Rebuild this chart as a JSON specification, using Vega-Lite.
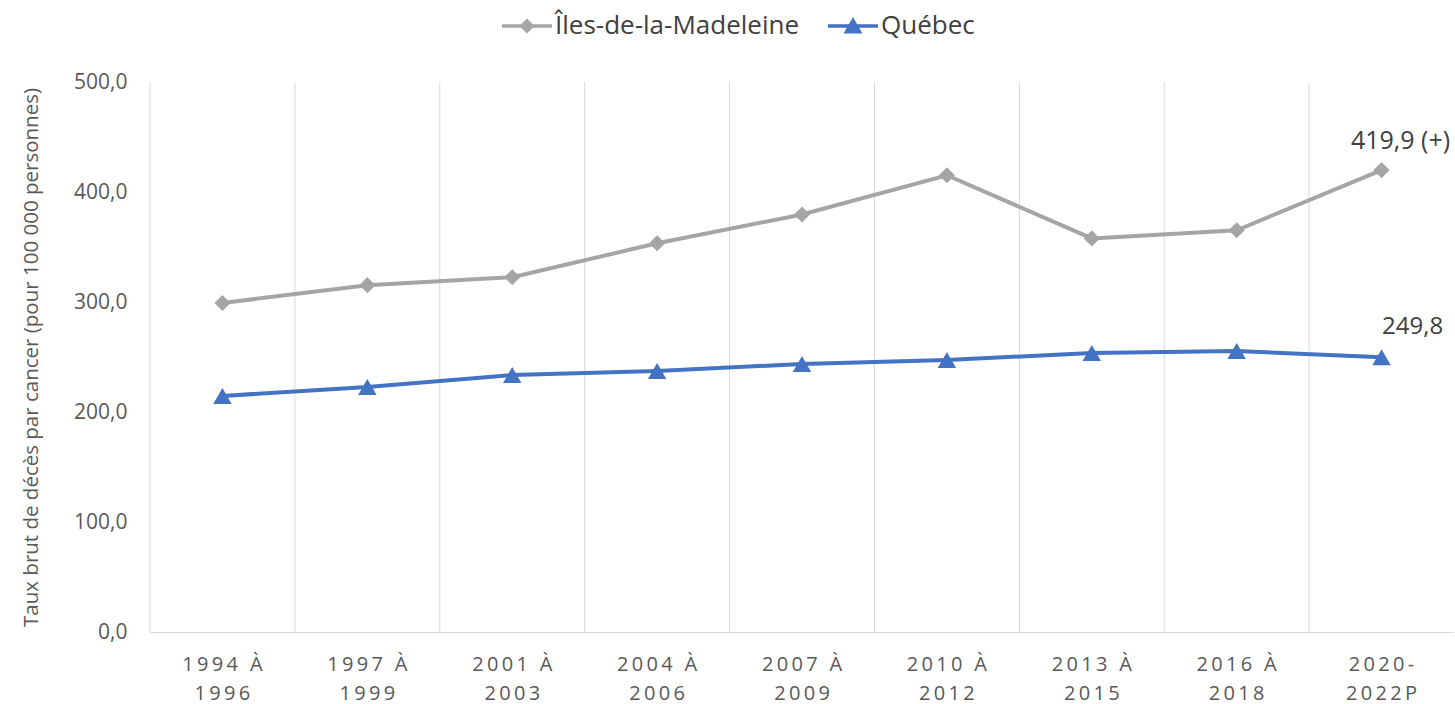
{
  "$schema": "https://vega.github.io/schema/vega-lite/v6.json",
  "width": 1304,
  "height": 550,
  "autosize": {"type": "none"},
  "padding": {"left": 150, "top": 82, "right": 1, "bottom": 72},
  "background": "white",
  "config": {
    "font": "Open Sans",
    "view": {"stroke": null}
  },
  "data": {
    "values": [
      {"periode": "1994 À|1996", "serie": "Îles-de-la-Madeleine", "taux": 299.1, "etiquette": ""},
      {"periode": "1997 À|1999", "serie": "Îles-de-la-Madeleine", "taux": 315.3, "etiquette": ""},
      {"periode": "2001 À|2003", "serie": "Îles-de-la-Madeleine", "taux": 322.5, "etiquette": ""},
      {"periode": "2004 À|2006", "serie": "Îles-de-la-Madeleine", "taux": 353.4, "etiquette": ""},
      {"periode": "2007 À|2009", "serie": "Îles-de-la-Madeleine", "taux": 379.5, "etiquette": ""},
      {"periode": "2010 À|2012", "serie": "Îles-de-la-Madeleine", "taux": 415.2, "etiquette": ""},
      {"periode": "2013 À|2015", "serie": "Îles-de-la-Madeleine", "taux": 357.8, "etiquette": ""},
      {"periode": "2016 À|2018", "serie": "Îles-de-la-Madeleine", "taux": 365.2, "etiquette": ""},
      {"periode": "2020-|2022P", "serie": "Îles-de-la-Madeleine", "taux": 419.9, "etiquette": "419,9 (+)"},
      {"periode": "1994 À|1996", "serie": "Québec", "taux": 214.6, "etiquette": ""},
      {"periode": "1997 À|1999", "serie": "Québec", "taux": 222.7, "etiquette": ""},
      {"periode": "2001 À|2003", "serie": "Québec", "taux": 233.6, "etiquette": ""},
      {"periode": "2004 À|2006", "serie": "Québec", "taux": 237.3, "etiquette": ""},
      {"periode": "2007 À|2009", "serie": "Québec", "taux": 243.6, "etiquette": ""},
      {"periode": "2010 À|2012", "serie": "Québec", "taux": 247.3, "etiquette": ""},
      {"periode": "2013 À|2015", "serie": "Québec", "taux": 253.6, "etiquette": ""},
      {"periode": "2016 À|2018", "serie": "Québec", "taux": 255.5, "etiquette": ""},
      {"periode": "2020-|2022P", "serie": "Québec", "taux": 249.8, "etiquette": "249,8"}
    ]
  },
  "layer": [
    {
      "transform": [{"filter": "datum.serie === 'Québec'"}],
      "mark": {"type": "rule", "color": "#D9D9D9", "strokeWidth": 1},
      "encoding": {
        "x": {"field": "periode", "type": "ordinal", "sort": null, "bandPosition": 0,
              "scale": {"type": "band", "paddingInner": 0, "paddingOuter": 0}}
      }
    },
    {
      "mark": {"type": "line", "strokeWidth": 4},
      "encoding": {
        "x": {"field": "periode", "type": "ordinal", "sort": null, "bandPosition": 0.5,
              "scale": {"type": "band", "paddingInner": 0, "paddingOuter": 0},
              "axis": {
                "title": null,
                "bandPosition": 0.5,
                "domainColor": "#D9D9D9",
                "domainWidth": 1,
                "ticks": false,
                "tickSize": 0,
                "labelAngle": 0,
                "labelAlign": "center",
                "labelFont": "Open Sans",
                "labelFontSize": 20,
                "labelColor": "#595959",
                "labelPadding": 22,
                "labelBaseline": "top",
                "labelLineHeight": 29,
                "labelExpr": "split(replace(datum.label, /([0-9P\\- ])(?=.)/g, '$1\u2009'), '|')"
              }},
        "y": {"field": "taux", "type": "quantitative",
              "scale": {"domain": [0, 500], "nice": false},
              "axis": {
                "title": "Taux brut de décès par cancer (pour 100 000 personnes)",
                "titleFont": "Open Sans",
                "titleFontSize": 20.5,
                "titleFontWeight": "normal",
                "titleColor": "#595959",
                "titlePadding": 32,
                "values": [0, 100, 200, 300, 400, 500],
                "grid": false,
                "domain": false,
                "ticks": false,
                "tickSize": 0,
                "labelPadding": 23,
                "labelFont": "Open Sans",
                "labelFontSize": 21,
                "labelColor": "#595959",
                "labelExpr": "replace(format(datum.value, '.1f'), '.', ',')"
              }},
        "color": {"field": "serie", "type": "nominal",
                  "scale": {"domain": ["Îles-de-la-Madeleine", "Québec"], "range": ["#A5A5A5", "#4472C4"]},
                  "legend": {
                    "title": null,
                    "orient": "none",
                    "direction": "horizontal",
                    "legendX": 352,
                    "legendY": -81,
                    "symbolType": "M-1,-0.07H1V0.07H-1Z",
                    "symbolSize": 2500,
                    "symbolStrokeWidth": 0,
                    "labelFont": "Open Sans",
                    "labelFontSize": 26,
                    "labelLimit": 400,
                    "labelColor": "#404040",
                    "labelOffset": 3,
                    "columnPadding": 28,
                    "encode": {
                      "symbols": {
                        "update": {
                          "shape": {"signal": "datum.value === 'Québec' ? 'M-1,-0.07H1V0.07H-1Z M0,-0.36L0.38,0.3H-0.38Z' : 'M-1,-0.07H1V0.07H-1Z M0,-0.3L0.3,0L0,0.3L-0.3,0Z'"},
                          "fill": {"signal": "datum.value === 'Québec' ? '#4472C4' : '#A5A5A5'"},
                          "fillOpacity": {"value": 1},
                          "strokeWidth": {"value": 0}
                        }
                      }
                    }
                  }}
      }
    },
    {
      "transform": [{"filter": "datum.serie === 'Îles-de-la-Madeleine'"}],
      "mark": {"type": "point", "filled": true, "opacity": 1, "shape": "diamond", "size": 260, "color": "#A5A5A5"},
      "encoding": {
        "x": {"field": "periode", "type": "ordinal", "sort": null, "bandPosition": 0.5},
        "y": {"field": "taux", "type": "quantitative"}
      }
    },
    {
      "transform": [{"filter": "datum.serie === 'Québec'"}],
      "mark": {"type": "point", "filled": true, "opacity": 1, "shape": "triangle-up", "size": 340, "color": "#4472C4"},
      "encoding": {
        "x": {"field": "periode", "type": "ordinal", "sort": null, "bandPosition": 0.5},
        "y": {"field": "taux", "type": "quantitative"}
      }
    },
    {
      "transform": [{"filter": "datum.serie === 'Îles-de-la-Madeleine' && datum.etiquette !== ''"}],
      "mark": {"type": "text", "font": "Open Sans", "fontSize": 25, "color": "#404040", "align": "center", "baseline": "middle", "dx": 19, "dy": -29},
      "encoding": {
        "x": {"field": "periode", "type": "ordinal", "sort": null, "bandPosition": 0.5},
        "y": {"field": "taux", "type": "quantitative"},
        "text": {"field": "etiquette"}
      }
    },
    {
      "transform": [{"filter": "datum.serie === 'Québec' && datum.etiquette !== ''"}],
      "mark": {"type": "text", "font": "Open Sans", "fontSize": 24, "color": "#404040", "align": "center", "baseline": "middle", "dx": 31, "dy": -30},
      "encoding": {
        "x": {"field": "periode", "type": "ordinal", "sort": null, "bandPosition": 0.5},
        "y": {"field": "taux", "type": "quantitative"},
        "text": {"field": "etiquette"}
      }
    }
  ]
}
